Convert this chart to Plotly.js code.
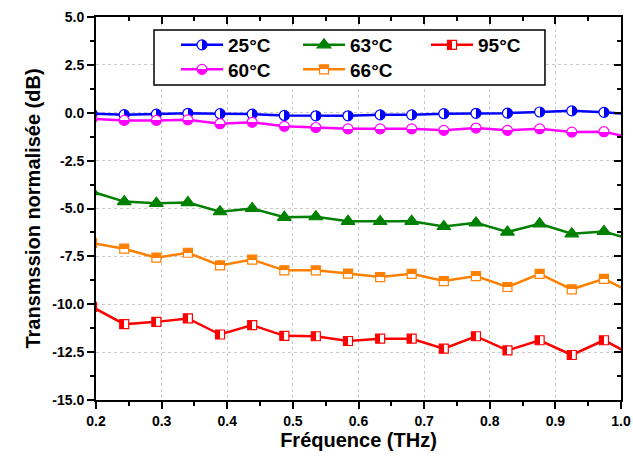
<!DOCTYPE html>
<html><head><meta charset="utf-8">
<script src="https://cdn.plot.ly/plotly-3.0.1.min.js"></script>
<style>html,body{margin:0;padding:0;background:#fff}</style>
</head><body>
<div id="chart" style="width:633px;height:456px"></div>
<script>
// Frequency points (THz)
const freq = [0.194, 0.243, 0.292, 0.340, 0.389, 0.438, 0.487, 0.535, 0.584, 0.633, 0.681, 0.730, 0.779, 0.827, 0.876, 0.925, 0.974, 1.022];
// Normalised transmission (dB) per temperature
const t25 = [-0.05, -0.10, -0.07, -0.03, -0.05, -0.07, -0.14, -0.16, -0.16, -0.11, -0.11, -0.05, -0.03, -0.02, 0.04, 0.10, 0.02, -0.08];
const t60 = [-0.32, -0.40, -0.40, -0.37, -0.57, -0.50, -0.71, -0.77, -0.84, -0.84, -0.84, -0.92, -0.80, -0.92, -0.84, -1.01, -0.99, -1.35];
const t63 = [-4.12, -4.64, -4.73, -4.69, -5.17, -5.00, -5.46, -5.43, -5.67, -5.68, -5.67, -5.94, -5.75, -6.23, -5.80, -6.32, -6.20, -6.68];
const t66 = [-6.80, -7.10, -7.57, -7.31, -7.97, -7.67, -8.23, -8.23, -8.40, -8.58, -8.41, -8.79, -8.53, -9.10, -8.41, -9.22, -8.67, -9.50];
const t95 = [-10.14, -11.04, -10.92, -10.74, -11.58, -11.09, -11.65, -11.67, -11.92, -11.80, -11.80, -12.32, -11.67, -12.41, -11.88, -12.65, -11.88, -12.75];
const names = ['25°C', '60°C', '63°C', '66°C', '95°C'];
const xTickVals = [0.2, 0.3, 0.4, 0.5, 0.6, 0.7, 0.8, 0.9, 1.0];
const xTickText = ['0.2', '0.3', '0.4', '0.5', '0.6', '0.7', '0.8', '0.9', '1.0'];
const yTickVals = [5, 2.5, 0, -2.5, -5, -7.5, -10, -12.5, -15];
const yTickText = ['5.0', '2.5', '0.0', '-2.5', '-5.0', '-7.5', '-10.0', '-12.5', '-15.0'];

const FONT = 'Liberation Sans, Arial, sans-serif';
const MS = 10;
function tr(y, name, color, marker, legend) {
  return {x: freq, y: y, name: name, type: 'scatter', mode: 'lines+markers', legend: legend,
    line: {color: color, width: 2.5}, marker: Object.assign({size: MS, line: {color: color, width: 1.2}}, marker)};
}
const data = [
  tr(t25, names[0], '#0000ff', {symbol: 'circle', color: '#ffffff', gradient: {type: 'horizontal', color: '#0000ff'}}, 'legend'),
  tr(t60, names[1], '#ff00ff', {symbol: 'circle', color: '#ffffff', gradient: {type: 'vertical', color: '#ff00ff'}}, 'legend2'),
  tr(t63, names[2], '#008000', {symbol: 'triangle-up', color: '#008000', size: 12}, 'legend3'),
  tr(t66, names[3], '#ff8000', {symbol: 'square', color: '#ff8000', gradient: {type: 'vertical', color: '#ffffff'}, size: 9}, 'legend4'),
  tr(t95, names[4], '#ff0000', {symbol: 'square', color: '#ff0000', gradient: {type: 'horizontal', color: '#ffffff'}, size: 9}, 'legend5'),
  {x: [], y: [], xaxis: 'x2', yaxis: 'y2', showlegend: false, hoverinfo: 'skip'}
];

function leg(x, y) {
  return {orientation: 'v', x: x, xanchor: 'left', y: y, yanchor: 'middle', xref: 'paper', yref: 'paper',
    bgcolor: 'rgba(0,0,0,0)', borderwidth: 0, itemwidth: 42,
    font: {family: FONT, size: 19, weight: 'bold', color: '#000'}};
}
const axBase = {showline: true, linecolor: '#000', linewidth: 2, zeroline: false, tickcolor: '#000', tickwidth: 2};
const layout = {
  width: 633, height: 456,
  margin: {l: 96, r: 12, t: 17, b: 56},
  paper_bgcolor: '#fff', plot_bgcolor: '#fff',
  font: {family: FONT, color: '#000', size: 14, weight: 'bold'},
  showlegend: true,
  legend: leg(0.1524, 0.9269),
  legend2: leg(0.1524, 0.8629),
  legend3: leg(0.3848, 0.9269),
  legend4: leg(0.3848, 0.8629),
  legend5: leg(0.6286, 0.9269),
  shapes: [{type: 'rect', xref: 'paper', yref: 'paper', x0: 0.1105, x1: 0.8552, y0: 0.8225, y1: 0.966,
    line: {color: '#000', width: 1.5}, fillcolor: '#fff', layer: 'above'}],
  xaxis: Object.assign({}, axBase, {range: [0.2, 1.0], tickmode: 'array', tickvals: xTickVals, ticktext: xTickText,
    ticks: 'outside', ticklen: 7, showgrid: true, gridcolor: '#c8c8c8', griddash: 'dot', gridwidth: 1,
    minor: {tickmode: 'linear', tick0: 0.2, dtick: 0.05, ticks: 'outside', ticklen: 4, tickwidth: 2, tickcolor: '#000', showgrid: false},
    tickfont: {family: FONT, size: 14, weight: 'bold'},
    title: {text: 'Fréquence (THz)', font: {family: FONT, size: 20, weight: 'bold'}, standoff: 2}}),
  yaxis: Object.assign({}, axBase, {range: [-15, 5], tickmode: 'array', tickvals: yTickVals, ticktext: yTickText,
    ticks: 'outside', ticklen: 7, showgrid: true, gridcolor: '#c8c8c8', griddash: 'dot', gridwidth: 1,
    minor: {tickmode: 'linear', tick0: 0, dtick: 1.25, ticks: 'outside', ticklen: 4, tickwidth: 2, tickcolor: '#000', showgrid: false},
    tickfont: {family: FONT, size: 14, weight: 'bold'},
    title: {text: 'Transmssion normalisée (dB)', font: {family: FONT, size: 20, weight: 'bold'}, standoff: 6}}),
  xaxis2: Object.assign({}, axBase, {overlaying: 'x', side: 'top', anchor: 'y', range: [0.2, 1.0], tickmode: 'array', tickvals: xTickVals,
    ticks: 'inside', ticklen: 7, showticklabels: false, showgrid: false,
    minor: {tickmode: 'linear', tick0: 0.2, dtick: 0.05, ticks: 'inside', ticklen: 4, tickwidth: 2, tickcolor: '#000', showgrid: false}}),
  yaxis2: Object.assign({}, axBase, {overlaying: 'y', side: 'right', anchor: 'x', range: [-15, 5], tickmode: 'array', tickvals: yTickVals,
    ticks: 'inside', ticklen: 7, showticklabels: false, showgrid: false,
    minor: {tickmode: 'linear', tick0: 0, dtick: 1.25, ticks: 'inside', ticklen: 4, tickwidth: 2, tickcolor: '#000', showgrid: false}})
};

function sharpen() {
  document.querySelectorAll('#chart linearGradient stop').forEach(function (s) { s.setAttribute('offset', '50%'); });
}
const gd = document.getElementById('chart');
Plotly.newPlot(gd, data, layout, {displayModeBar: false, staticPlot: true}).then(function () {
  sharpen();
  gd.on('plotly_afterplot', sharpen);
});
</script>
</body></html>
